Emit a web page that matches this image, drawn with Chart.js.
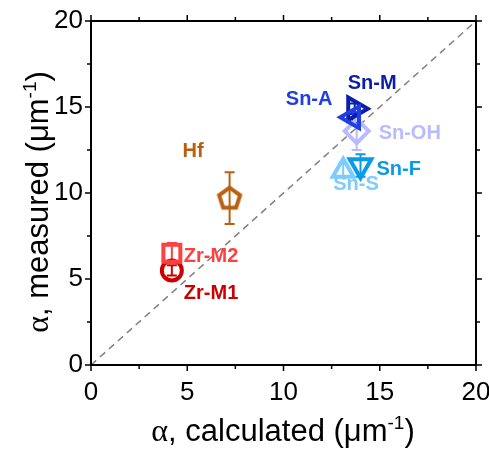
<!DOCTYPE html>
<html>
<head>
<meta charset="utf-8">
<script src="https://cdn.jsdelivr.net/npm/chart.js@4"></script>
<style>
html,body{margin:0;padding:0;background:#fff;overflow:hidden;}
#wrap{width:489px;height:452px;overflow:hidden;}
</style>
</head>
<body>
<div id="wrap"><canvas id="c" width="493" height="452"></canvas></div>
<script>
// ---- data ----
const names = ['Zr-M1','Zr-M2','Hf','Sn-S','Sn-F','Sn-OH','Sn-M','Sn-A'];
const alphaCalc = [4.2, 4.2, 7.2, 13.1, 14.0, 13.8, 13.7, 13.6];
const alphaMeas = [5.5, 6.5, 9.7, 11.3, 11.6, 13.6, 14.9, 14.4];
const alphaErr  = [0.3, 0.6, 1.5, 0.4, 0.65, 1.1, 0.3, 0.3];
const diagX = [0, 20];
const diagY = [0, 20];
const tickValues = [0, 5, 10, 15, 20];

// ---- styles ----
const colors = ['#cc0000','#ff4040','#b8600f','#7ecbff','#0a9ae8','#b8bcff','#0b1ea8','#1f3fe0'];
const labelOffsets = [[12,23],[12,3],[-47,-47],[-10,14],[16,4],[22,2],[-7,-25],[-67,-18]];

function pentagon(color){
  const c = document.createElement('canvas');
  c.width = 32; c.height = 32;
  const g = c.getContext('2d');
  g.strokeStyle = color; g.lineWidth = 4; g.lineJoin = 'miter';
  g.beginPath();
  for (let k=0;k<5;k++){
    const a = -Math.PI/2 + k*2*Math.PI/5;
    const px = 16 + 11*Math.cos(a), py = 16.5 + 11*Math.sin(a);
    k ? g.lineTo(px,py) : g.moveTo(px,py);
  }
  g.closePath(); g.stroke();
  return c;
}
const styles = ['circle','rect',pentagon(colors[2]),'triangle','triangle','rectRot','triangle','triangle'];
const rotations = [0,0,0,0,180,0,90,270];
const radii = [10,12,12,12,12.5,12,13,12.5];

const SANS = '"Liberation Sans", Arial, sans-serif';
const SERIF = '"Liberation Serif", "Times New Roman", serif';

const framePlugin = {
  id:'frame',
  beforeDatasetsDraw(chart){
    const {ctx, scales:{x,y}} = chart;
    ctx.save();
    ctx.lineWidth = 2;
    for (let i=0;i<names.length;i++){
      const px = x.getPixelForValue(alphaCalc[i]);
      const y1 = y.getPixelForValue(alphaMeas[i]+alphaErr[i]);
      const y2 = y.getPixelForValue(alphaMeas[i]-alphaErr[i]);
      ctx.strokeStyle = colors[i];
      ctx.beginPath();
      ctx.moveTo(px,y1); ctx.lineTo(px,y2);
      ctx.moveTo(px-5,y1); ctx.lineTo(px+5,y1);
      ctx.moveTo(px-5,y2); ctx.lineTo(px+5,y2);
      ctx.stroke();
    }
    ctx.restore();
  },
  afterDatasetsDraw(chart){
    const {ctx, chartArea:a, scales:{x,y}} = chart;
    ctx.save();
    ctx.font = 'bold 20px ' + SANS;
    ctx.textAlign = 'left'; ctx.textBaseline = 'middle';
    for (let i=0;i<names.length;i++){
      ctx.fillStyle = colors[i];
      ctx.fillText(names[i], x.getPixelForValue(alphaCalc[i]) + labelOffsets[i][0], y.getPixelForValue(alphaMeas[i]) + labelOffsets[i][1]);
    }
    ctx.strokeStyle = '#000'; ctx.lineWidth = 2;
    ctx.strokeRect(a.left, a.top, a.right-a.left, a.bottom-a.top);
    ctx.lineWidth = 1.5;
    ctx.beginPath();
    for (let v=0; v<=20; v+=2.5){
      const len = (v%5===0) ? 6 : 4;
      const px = x.getPixelForValue(v), py = y.getPixelForValue(v);
      ctx.moveTo(px, a.bottom); ctx.lineTo(px, a.bottom+len);
      ctx.moveTo(px, a.top); ctx.lineTo(px, a.top-len);
      ctx.moveTo(a.left, py); ctx.lineTo(a.left-len, py);
      ctx.moveTo(a.right, py); ctx.lineTo(a.right+len, py);
    }
    ctx.stroke();
    function drawTitle(cx, cy, rot, text){
      ctx.save();
      ctx.translate(cx, cy); ctx.rotate(rot);
      ctx.fillStyle = '#000'; ctx.textBaseline = 'alphabetic'; ctx.textAlign = 'left';
      const parts = [
        {t:'α', f:'32px '+SERIF, dy:0},
        {t:', '+text+' (μm', f:'31px '+SANS, dy:0},
        {t:'-1', f:'19px '+SANS, dy:-12},
        {t:')', f:'31px '+SANS, dy:0}
      ];
      let w = 0;
      parts.forEach(p=>{ctx.font=p.f; p.w = ctx.measureText(p.t).width; w += p.w;});
      let xx = -w/2;
      parts.forEach(p=>{ctx.font=p.f; ctx.fillText(p.t, xx, p.dy); xx += p.w;});
      ctx.restore();
    }
    drawTitle(283, 441, 0, 'calculated');
    drawTitle(48, 202, -Math.PI/2, 'measured');
    ctx.restore();
  }
};

const tickOpts = {
  stepSize: 2.5,
  autoSkip: false,
  maxRotation: 0,
  color: '#000',
  font: {family: SANS, size: 26},
  callback: v => tickValues.includes(v) ? String(v) : ''
};

new Chart(document.getElementById('c'), {
  type: 'scatter',
  data: {
    datasets: [
      {
        type: 'line',
        data: diagX.map((v,i)=>({x:v, y:diagY[i]})),
        borderColor: '#808080', borderWidth: 1.5, borderDash: [7,5],
        pointRadius: 0, fill: false, order: 10
      },
      {
        data: alphaCalc.map((v,i)=>({x:v, y:alphaMeas[i]})),
        pointStyle: styles,
        rotation: rotations,
        pointRadius: radii,
        borderColor: colors,
        backgroundColor: 'rgba(0,0,0,0)',
        borderWidth: 4,
        order: 1
      }
    ]
  },
  options: {
    responsive: false,
    animation: false,
    events: [],
    layout: {padding: {left: 0, right: 13, top: 21, bottom: 0}},
    plugins: {legend: {display: false}, tooltip: {enabled: false}, title: {display: false}},
    scales: {
      x: {
        type: 'linear', min: 0, max: 20,
        grid: {display: true, drawOnChartArea: false, drawTicks: false},
        border: {display: false},
        ticks: Object.assign({}, tickOpts, {padding: 12}),
        afterFit(s){ s.height = 87; s.paddingLeft = 0; s.paddingRight = 0; }
      },
      y: {
        type: 'linear', min: 0, max: 20,
        grid: {display: true, drawOnChartArea: false, drawTicks: false},
        border: {display: false},
        ticks: Object.assign({}, tickOpts, {padding: 8}),
        afterFit(s){ s.width = 91; s.paddingTop = 0; s.paddingBottom = 0; }
      }
    }
  },
  plugins: [framePlugin]
});
</script>
</body>
</html>
